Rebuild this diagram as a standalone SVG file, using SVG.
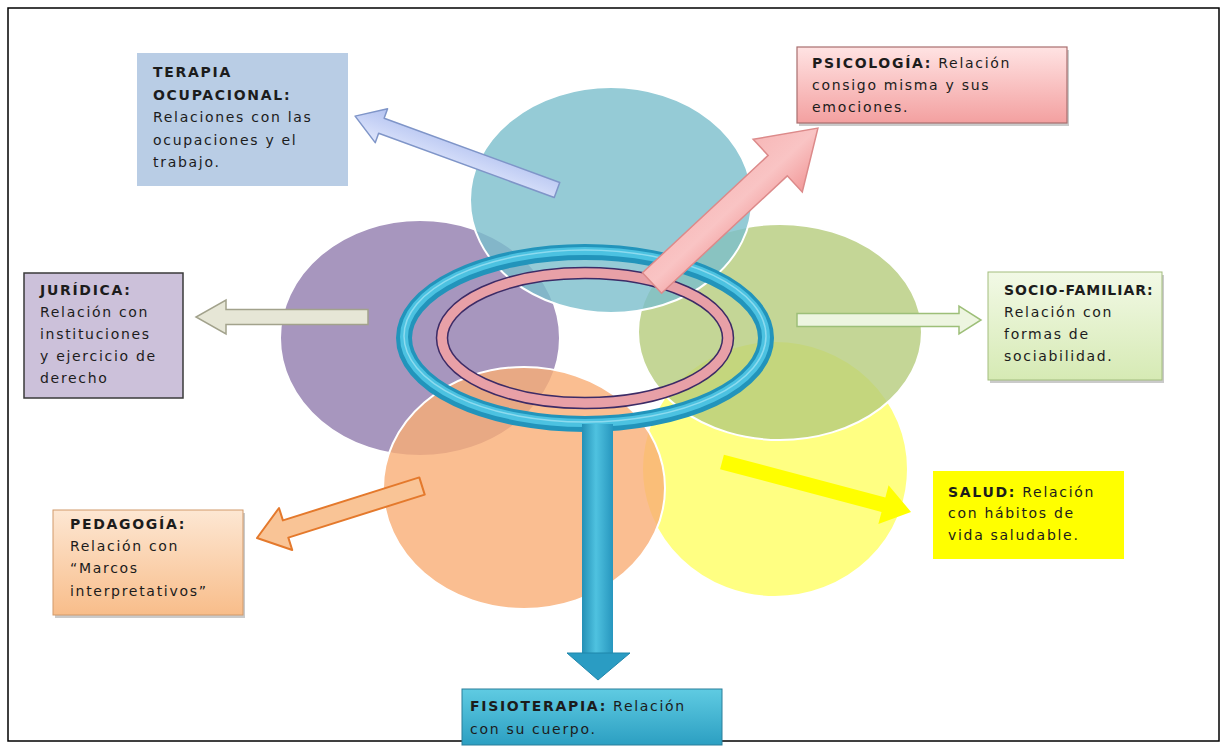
<svg xmlns="http://www.w3.org/2000/svg" width="1227" height="746" viewBox="0 0 1227 746">
<style>
.t{font-family:"DejaVu Sans","Liberation Sans",sans-serif;font-size:14px;letter-spacing:1.7px;fill:#1c1c1c}
.b{font-weight:bold}
.circ{stroke:#ffffff;stroke-width:2;fill-opacity:0.8}
.shadow{fill:#8a8a8a;opacity:0.45}
</style>
<defs>
<linearGradient id="gPink" x1="0" y1="0" x2="0" y2="1"><stop offset="0" stop-color="#ffe3e3"/><stop offset="1" stop-color="#f3a0a0"/></linearGradient>
<linearGradient id="gGreen" x1="0" y1="0" x2="0" y2="1"><stop offset="0" stop-color="#f2f9e6"/><stop offset="1" stop-color="#d6eab4"/></linearGradient>
<linearGradient id="gPeach" x1="0" y1="0" x2="0" y2="1"><stop offset="0" stop-color="#fde7d3"/><stop offset="1" stop-color="#f8bd8a"/></linearGradient>
<linearGradient id="gTeal" x1="0" y1="0" x2="0" y2="1"><stop offset="0" stop-color="#5fcbe2"/><stop offset="1" stop-color="#2c9fc2"/></linearGradient>
<linearGradient id="gStem" x1="0" y1="0" x2="1" y2="0"><stop offset="0" stop-color="#2490b6"/><stop offset="0.45" stop-color="#4fc2e0"/><stop offset="1" stop-color="#2796be"/></linearGradient>
<linearGradient id="gArrowPink" x1="0" y1="0" x2="0" y2="1"><stop offset="0" stop-color="#f7b8b8"/><stop offset="0.5" stop-color="#f9c4c4"/><stop offset="1" stop-color="#f29a9a"/></linearGradient>
<linearGradient id="gArrowBlue" x1="0" y1="0" x2="0" y2="1"><stop offset="0" stop-color="#dfe6fc"/><stop offset="1" stop-color="#b3c2f0"/></linearGradient>
</defs>

<rect x="8" y="8" width="1211" height="733" fill="#ffffff" stroke="#000000" stroke-width="1.5"/>

<g id="circles">
<ellipse class="circ" cx="420" cy="338" rx="140" ry="118" fill="#917cae"/>
<ellipse class="circ" cx="775" cy="469" rx="133" ry="128" fill="#ffff63"/>
<ellipse class="circ" cx="780" cy="332" rx="142" ry="108" fill="#b5cc7c"/>
<ellipse class="circ" cx="524" cy="488" rx="141" ry="121" fill="#f9ae75"/>
<ellipse class="circ" cx="611" cy="200" rx="141" ry="113" fill="#7abecc"/>
</g>

<g id="rings">
<ellipse cx="585" cy="338" rx="181" ry="86" fill="none" stroke="#2294bb" stroke-width="16"/>
<ellipse cx="585" cy="337" rx="181" ry="86" fill="none" stroke="#4cc2e1" stroke-width="8"/>
<ellipse cx="585" cy="336" rx="181" ry="86" fill="none" stroke="#a8e6f5" stroke-width="1.5" opacity="0.7"/>
<ellipse cx="585" cy="338" rx="143" ry="65" fill="none" stroke="#3c2b66" stroke-width="12.5"/>
<ellipse cx="585" cy="338" rx="143" ry="65" fill="none" stroke="#e8a0a7" stroke-width="9.5"/>
</g>

<g id="connectors">
<g id="stem-fisioterapia">
<rect x="582" y="424" width="31" height="231" fill="url(#gStem)"/>
<polygon points="567,653 630,653 598,680" fill="#2a9cc3" stroke="#1f86ab" stroke-width="1"/>
</g>
<polygon id="arrow-terapia" transform="translate(557,190) rotate(-159.9)" points="0,-8 187,-8 187,-18 215,0 187,18 187,8 0,8" fill="url(#gArrowBlue)" stroke="#7f95c8" stroke-width="1.5" stroke-linejoin="round"/>
<polygon id="arrow-juridica" transform="translate(368,317) rotate(180)" points="0,-7.5 142,-7.5 142,-17 172,0 142,17 142,7.5 0,7.5" fill="#e6e6d6" stroke="#a2a28c" stroke-width="1.5"/>
<polygon id="arrow-socio" transform="translate(797,320)" points="0,-6.5 162,-6.5 162,-14 184,0 162,14 162,6.5 0,6.5" fill="#edf5e0" stroke="#9dbf78" stroke-width="1.5"/>
<polygon id="arrow-pedagogia" transform="translate(422,486) rotate(162.5)" points="0,-9 143,-9 143,-22 173,0 143,22 143,9 0,9" fill="#f9c496" stroke="#e4792c" stroke-width="2" stroke-linejoin="round"/>
<polygon id="arrow-salud" transform="translate(722,462) rotate(14.8)" points="0,-7.5 167,-7.5 167,-20 195.5,0 167,20 167,7.5 0,7.5" fill="#ffff00"/>
<polygon id="arrow-psicologia" transform="translate(652,283) rotate(-43.04)" points="0,-14 172,-14 172,-36 227,0 172,36 172,14 0,14" fill="url(#gArrowPink)" stroke="#dc8a8a" stroke-width="1.5"/>
</g>

<g id="node-terapia">
<rect x="137" y="53" width="211" height="133" fill="#b9cde5"/>
<text class="t b" x="153" y="77">TERAPIA</text>
<text class="t b" x="153" y="100">OCUPACIONAL:</text>
<text class="t" x="153" y="122">Relaciones con las</text>
<text class="t" x="153" y="145">ocupaciones y el</text>
<text class="t" x="153" y="167">trabajo.</text>
</g>

<g id="node-psicologia">
<rect class="shadow" x="799" y="50" width="270" height="76"/>
<rect x="797" y="47" width="270" height="76" fill="url(#gPink)" stroke="#a86e6e" stroke-width="1.2"/>
<text class="t" x="812" y="68"><tspan class="b">PSICOLOGÍA:</tspan> Relación</text>
<text class="t" x="812" y="90">consigo misma y sus</text>
<text class="t" x="812" y="112">emociones.</text>
</g>

<g id="node-juridica">
<rect x="24" y="273" width="159" height="125" fill="#ccc1da" stroke="#3a3a3a" stroke-width="1.5"/>
<text class="t b" x="40" y="295">JURÍDICA:</text>
<text class="t" x="40" y="317">Relación con</text>
<text class="t" x="40" y="339">instituciones</text>
<text class="t" x="40" y="361">y ejercicio de</text>
<text class="t" x="40" y="383">derecho</text>
</g>

<g id="node-socio">
<rect class="shadow" x="990" y="275" width="174" height="108"/>
<rect x="988" y="272" width="174" height="108" fill="url(#gGreen)" stroke="#a3bd7e" stroke-width="1"/>
<text class="t b" x="1004" y="295" style="letter-spacing:1px">SOCIO-FAMILIAR:</text>
<text class="t" x="1004" y="317">Relación con</text>
<text class="t" x="1004" y="339">formas de</text>
<text class="t" x="1004" y="361">sociabilidad.</text>
</g>

<g id="node-salud">
<rect x="933" y="471" width="191" height="88" fill="#ffff00"/>
<text class="t" x="948" y="497"><tspan class="b">SALUD:</tspan> Relación</text>
<text class="t" x="948" y="518">con hábitos de</text>
<text class="t" x="948" y="540">vida saludable.</text>
</g>

<g id="node-pedagogia">
<rect class="shadow" x="55" y="513" width="190" height="105"/>
<rect x="53" y="510" width="190" height="105" fill="url(#gPeach)" stroke="#d29a6a" stroke-width="1"/>
<text class="t b" x="70" y="529">PEDAGOGÍA:</text>
<text class="t" x="70" y="551">Relación con</text>
<text class="t" x="70" y="573">“Marcos</text>
<text class="t" x="70" y="596">interpretativos”</text>
</g>

<g id="node-fisioterapia">
<rect x="462" y="689" width="260" height="56" fill="url(#gTeal)" stroke="#2a7f9a" stroke-width="1"/>
<text class="t" x="470" y="711"><tspan class="b">FISIOTERAPIA:</tspan> Relación</text>
<text class="t" x="470" y="734">con su cuerpo.</text>
</g>
</svg>
